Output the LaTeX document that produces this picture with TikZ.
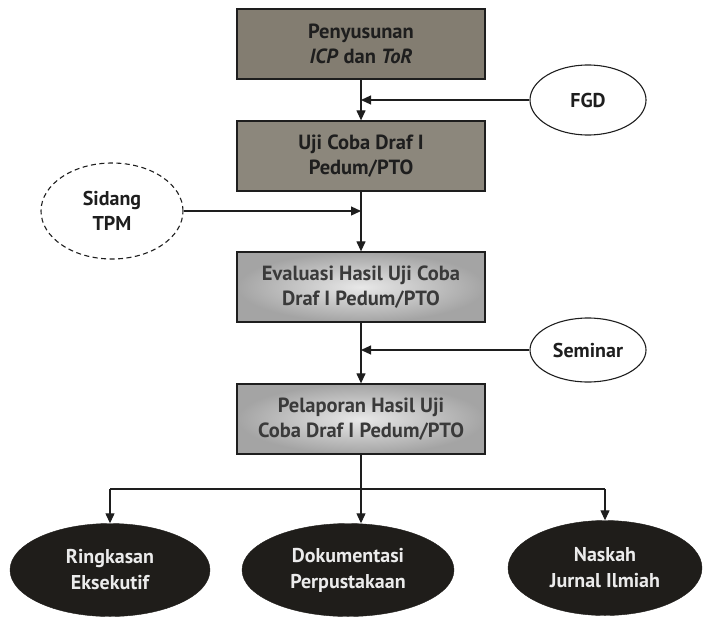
\documentclass[tikz,border=0pt]{standalone}
\usepackage{fontspec}
\setmainfont{PT Sans}
\usetikzlibrary{arrows.meta,shapes.geometric}

\definecolor{boxdark}{HTML}{837D71}
\definecolor{boxdarkb}{HTML}{8C877C}
\definecolor{boxedge}{HTML}{A4A4A4}
\definecolor{boxlight}{HTML}{E8E8E8}
\definecolor{inkdark}{HTML}{1E1E1E}
\definecolor{inkgrey}{HTML}{3A3A3A}
\definecolor{outnode}{HTML}{1F1D1A}

\tikzset{
  stepbox/.style={draw=inkdark, line width=1.3pt, rectangle,
    minimum width=248pt, minimum height=70pt, inner sep=0pt,
    align=center, font=\bfseries\fontsize{20.5}{25}\selectfont},
  darkbox/.style={stepbox, fill=#1, text=inkdark},
  lightbox/.style={stepbox, inner color=boxlight, outer color=boxedge, text=inkgrey},
  inputell/.style={ellipse, draw=inkdark, line width=1.1pt, inner sep=0pt,
    align=center, font=\bfseries\fontsize{20}{25}\selectfont, text=inkdark},
  outell/.style={ellipse, fill=outnode, draw=outnode, inner sep=0pt,
    align=center, font=\bfseries\fontsize{20}{26}\selectfont, text=white!92!black},
  link/.style={draw=inkdark, line width=1.2pt},
  arr/.style={link, -{Triangle[length=10pt,width=9pt]}}
}

\begin{document}
\begin{tikzpicture}[x=1pt, y=-1pt]
  \useasboundingbox (0,0) rectangle (703,616);

  % main sequence of steps
  \node[darkbox=boxdark]  (b1) at (361,44)  {Penyusunan\\\textit{ICP} dan \textit{ToR}};
  \node[darkbox=boxdarkb] (b2) at (361,156) {Uji Coba Draf I\\Pedum/PTO};
  \node[lightbox]         (b3) at (361,287) {Evaluasi Hasil Uji Coba\\Draf I Pedum/PTO};
  \node[lightbox]         (b4) at (361,419) {Pelaporan Hasil Uji\\Coba Draf I Pedum/PTO};

  % inputs feeding into the flow
  \node[inputell, minimum width=116pt, minimum height=70pt] (fgd) at (588,100) {FGD};
  \node[inputell, dashed, dash pattern=on 5pt off 3.5pt, minimum width=142pt, minimum height=96pt] (tpm) at (112,211) {Sidang\\TPM};
  \node[inputell, minimum width=116pt, minimum height=64pt] (sem) at (588,350) {Seminar};

  % outputs
  \node[outell, minimum width=200pt, minimum height=93pt] (e1) at (110,570) {Ringkasan\\Eksekutif};
  \node[outell, minimum width=212pt, minimum height=93pt] (e2) at (348,570) {Dokumentasi\\Perpustakaan};
  \node[outell, minimum width=194pt, minimum height=95pt] (e3) at (605,568) {Naskah\\Jurnal Ilmiah};

  % connectors between steps
  \draw[arr] (b1.south) -- (b2.north);
  \draw[arr] (b2.south) -- (b3.north);
  \draw[arr] (b3.south) -- (b4.north);

  % side inputs joining the vertical lines
  \draw[arr] (fgd.west) -- (fgd.west -| b1.south);
  \draw[arr] (tpm.east) -- (tpm.east -| b2.south);
  \draw[arr] (sem.west) -- (sem.west -| b3.south);

  % distribution to the outputs
  \coordinate (jm) at (361,489);
  \draw[arr] (b4.south) -- (b4.south |- e2.north);
  \draw[link] (e1.north |- jm) -- (e3.north |- jm);
  \draw[arr] (e1.north |- jm) -- (e1.north);
  \draw[arr] (e3.north |- jm) -- (e3.north);
\end{tikzpicture}
\end{document}
